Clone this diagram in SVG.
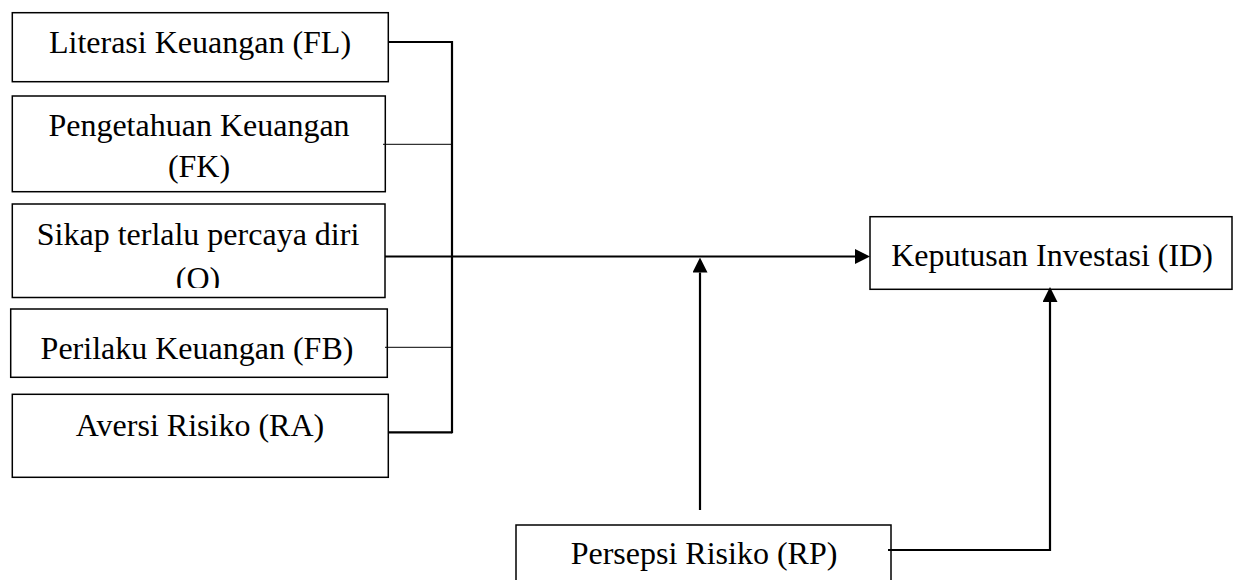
<svg xmlns="http://www.w3.org/2000/svg" width="1233" height="580" viewBox="0 0 1233 580">
<style>
.box{fill:#fff;stroke:#000;stroke-width:1.5}
.t{font-family:"Liberation Serif","Times New Roman",Times,serif;font-size:32px;fill:#000;text-anchor:middle}
.thick{fill:none;stroke:#000;stroke-width:2.2}
.thin{fill:none;stroke:#000;stroke-width:1}
</style>
<defs>
<marker id="arr" markerUnits="userSpaceOnUse" markerWidth="15" markerHeight="15" viewBox="0 0 15 15" refX="0" refY="7.5" orient="auto">
<path d="M0,0 L15,7.5 L0,15 Z" fill="#000"/>
</marker>
<clipPath id="clipO"><rect x="12" y="204" width="373" height="84"/></clipPath>
</defs>
<rect width="1233" height="580" fill="#fff"/>
<g id="FL"><rect class="box" x="12.3" y="12.7" width="376" height="69"/><text class="t" x="200" y="53">Literasi Keuangan (FL)</text></g>
<g id="FK"><rect class="box" x="12.3" y="96" width="373" height="95.7"/><text class="t" x="199" y="136">Pengetahuan Keuangan</text><text class="t" x="199" y="176.5">(FK)</text></g>
<g id="O"><rect class="box" x="12.3" y="204" width="372.7" height="93.5"/><text class="t" x="198" y="245">Sikap terlalu percaya diri</text><text class="t" x="198" y="288.5" clip-path="url(#clipO)">(O)</text></g>
<g id="FB"><rect class="box" x="10.7" y="309" width="376.6" height="68.3"/><text class="t" x="197" y="359">Perilaku Keuangan (FB)</text></g>
<g id="RA"><rect class="box" x="12.3" y="394.3" width="376" height="83"/><text class="t" x="200" y="435.7">Aversi Risiko (RA)</text></g>
<g id="ID"><rect class="box" x="870" y="216.7" width="362" height="72.6"/><text class="t" x="1052" y="266">Keputusan Investasi (ID)</text></g>
<g id="RP"><rect class="box" x="516" y="525" width="375" height="70"/><text class="t" x="704" y="564">Persepsi Risiko (RP)</text></g>
<g id="connectors">
<path class="thick" d="M388.3 42 H452"/>
<path class="thick" d="M452 41 V433.3"/>
<path class="thin" d="M383 144.3 H451"/>
<path class="thin" d="M385 347.3 H451"/>
<path class="thick" d="M389 432.3 H452"/>
<path class="thick" d="M385 256.5 H855" marker-end="url(#arr)"/>
<path class="thick" d="M700 510 V272.5" marker-end="url(#arr)"/>
<path class="thick" d="M888 550 H1050 V302" marker-end="url(#arr)"/>
</g>
</svg>
